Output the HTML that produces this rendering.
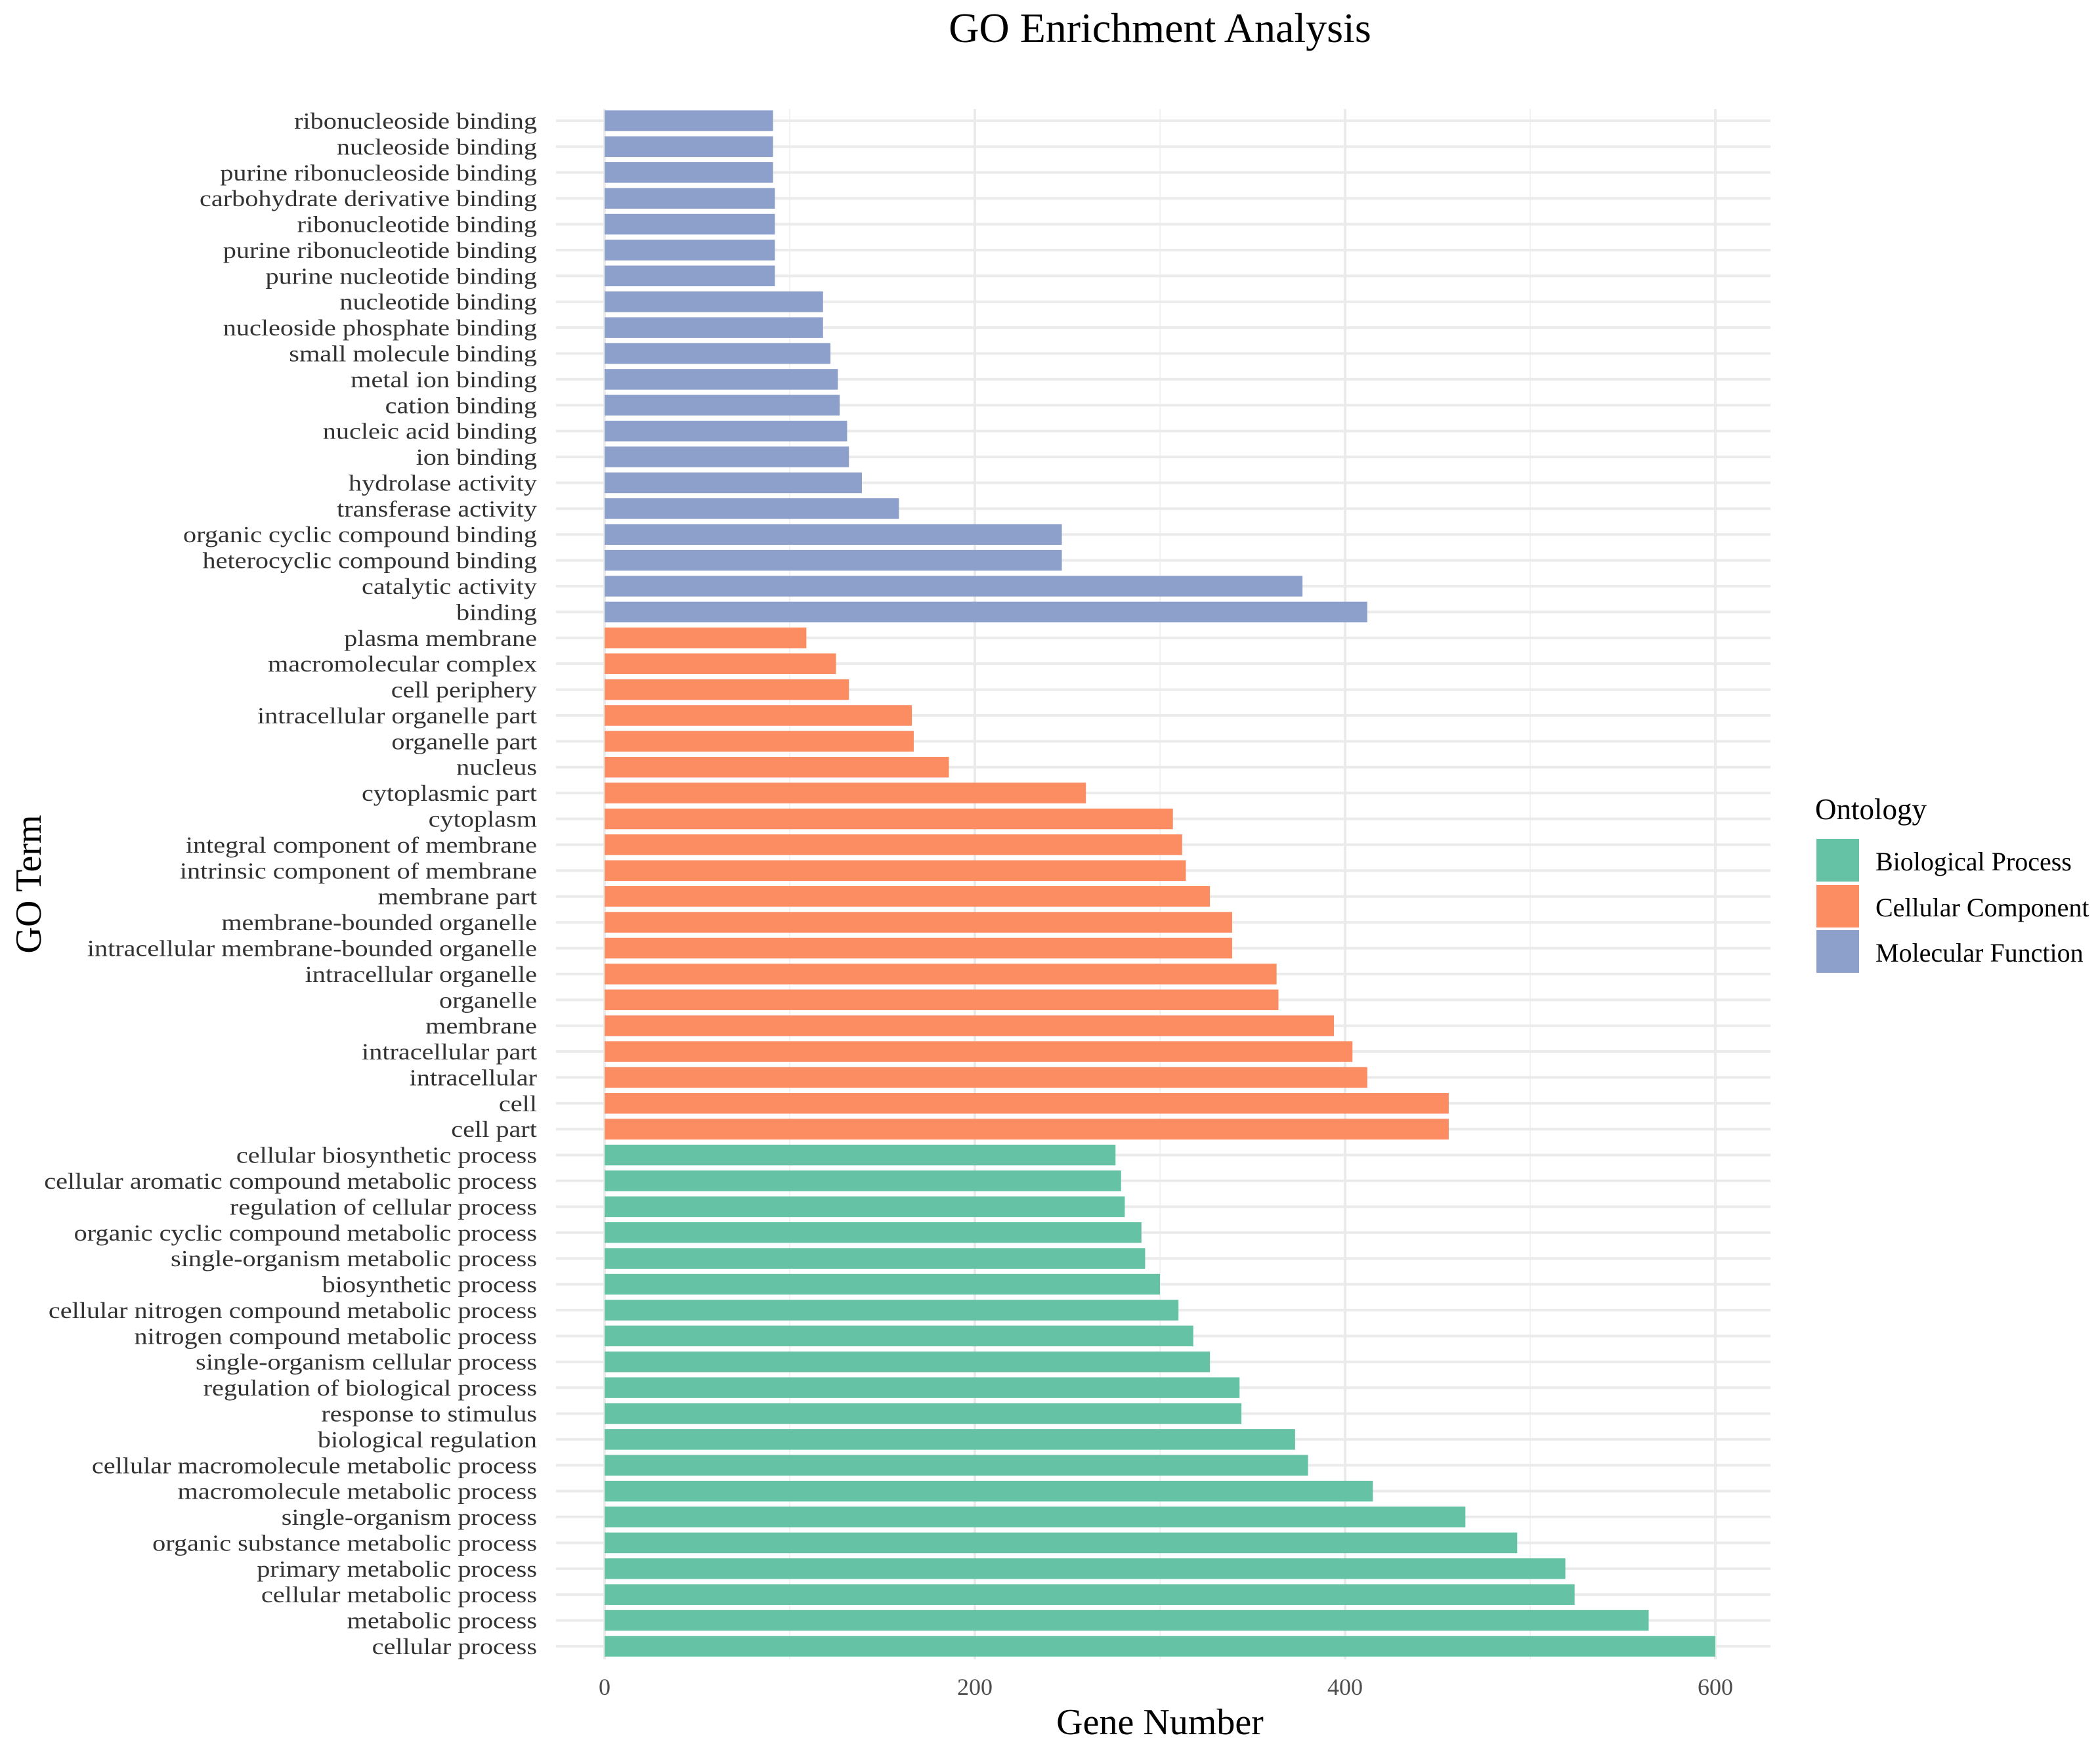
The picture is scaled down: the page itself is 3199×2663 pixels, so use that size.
<!DOCTYPE html>
<html><head><meta charset="utf-8"><style>
html,body{margin:0;padding:0;background:#fff}
svg{display:block;font-family:"Liberation Serif",serif}
</style></head><body>
<svg id="chart" width="3199" height="2663" viewBox="0 0 3199 2663" xmlns="http://www.w3.org/2000/svg">
<text x="1767" y="64" font-size="64" text-anchor="middle" fill="#000">GO Enrichment Analysis</text>
<g id="grid"></g>
<g id="bars"></g>
<g id="ylabels" transform="translate(818,0) scale(1.15,1) translate(-818,0)"></g>
<g id="xticks"></g>
<text x="1767" y="2642" font-size="56" text-anchor="middle" fill="#000">Gene Number</text>
<text x="0" y="0" font-size="56" text-anchor="middle" fill="#000" transform="translate(62,1347) rotate(-90)">GO Term</text>
<g>
<text x="2765" y="1248" font-size="45" fill="#000">Ontology</text>
<rect x="2767" y="1278" width="65" height="65" fill="#66c2a5"/>
<rect x="2767" y="1348" width="65" height="65" fill="#fc8d62"/>
<rect x="2767" y="1417" width="65" height="65" fill="#8da0cb"/>
<text x="2857" y="1326" font-size="40" fill="#000">Biological Process</text>
<text x="2857" y="1396" font-size="40" fill="#000">Cellular Component</text>
<text x="2857" y="1465" font-size="40" fill="#000">Molecular Function</text>
</g>
</svg>
<script>
const terms = ["ribonucleoside binding","nucleoside binding","purine ribonucleoside binding","carbohydrate derivative binding","ribonucleotide binding","purine ribonucleotide binding","purine nucleotide binding","nucleotide binding","nucleoside phosphate binding","small molecule binding","metal ion binding","cation binding","nucleic acid binding","ion binding","hydrolase activity","transferase activity","organic cyclic compound binding","heterocyclic compound binding","catalytic activity","binding",
"plasma membrane","macromolecular complex","cell periphery","intracellular organelle part","organelle part","nucleus","cytoplasmic part","cytoplasm","integral component of membrane","intrinsic component of membrane","membrane part","membrane-bounded organelle","intracellular membrane-bounded organelle","intracellular organelle","organelle","membrane","intracellular part","intracellular","cell","cell part",
"cellular biosynthetic process","cellular aromatic compound metabolic process","regulation of cellular process","organic cyclic compound metabolic process","single-organism metabolic process","biosynthetic process","cellular nitrogen compound metabolic process","nitrogen compound metabolic process","single-organism cellular process","regulation of biological process","response to stimulus","biological regulation","cellular macromolecule metabolic process","macromolecule metabolic process","single-organism process","organic substance metabolic process","primary metabolic process","cellular metabolic process","metabolic process","cellular process"];
const geneCounts = [91,91,91,92,92,92,92,118,118,122,126,127,131,132,139,159,247,247,377,412,
109,125,132,166,167,186,260,307,312,314,327,339,339,363,364,394,404,412,456,456,
276,279,281,290,292,300,310,318,327,343,344,373,380,415,465,493,519,524,564,600];
const ontology = ["MF","MF","MF","MF","MF","MF","MF","MF","MF","MF","MF","MF","MF","MF","MF","MF","MF","MF","MF","MF",
"CC","CC","CC","CC","CC","CC","CC","CC","CC","CC","CC","CC","CC","CC","CC","CC","CC","CC","CC","CC",
"BP","BP","BP","BP","BP","BP","BP","BP","BP","BP","BP","BP","BP","BP","BP","BP","BP","BP","BP","BP"];
const xTicks = [0,200,400,600];
const xMinor = [100,300,500];
const colors = {BP:"#66c2a5",CC:"#fc8d62",MF:"#8da0cb"};
const NS="http://www.w3.org/2000/svg";
const X0=921, XS=2.82, Y0=184, YEND=2508;
const step=(YEND-Y0)/(terms.length-1);
const xs=v=>X0+v*XS;
const ys=i=>Y0+i*step;
const PT=166, PB=2528, PL=847, PR=2697;
function mk(tag,attrs,parent){const e=document.createElementNS(NS,tag);for(const k in attrs)e.setAttribute(k,attrs[k]);parent.appendChild(e);return e;}
const grid=document.getElementById('grid');
xMinor.forEach(v=>{const l=mk('line',{x1:xs(v),x2:xs(v),y1:PT,y2:PB,stroke:'#f2f2f2','stroke-width':2},grid);

});
xTicks.forEach(v=>{const l=mk('line',{x1:xs(v),x2:xs(v),y1:PT,y2:PB,stroke:'#ebebeb','stroke-width':4},grid);

});
terms.forEach((t,i)=>{const l=mk('line',{x1:PL,x2:PR,y1:ys(i),y2:ys(i),stroke:'#ebebeb','stroke-width':4},grid);

});
const bars=document.getElementById('bars'), yl=document.getElementById('ylabels');
const bh=step*0.8;
terms.forEach((t,i)=>{
 const r=mk('rect',{x:xs(0),y:ys(i)-bh/2,width:xs(geneCounts[i])-xs(0),height:bh,fill:colors[ontology[i]]},bars);
 
 
 const tx=mk('text',{x:818,y:ys(i)+12,'font-size':35,'text-anchor':'end',fill:'#333'},yl);
 tx.textContent=t;
 
 
});
const xt=document.getElementById('xticks');
xTicks.forEach(v=>{const tx=mk('text',{x:xs(v),y:2582,'font-size':36,'text-anchor':'middle',fill:'#4d4d4d'},xt);
tx.textContent=String(v);

});
</script>
</body></html>
